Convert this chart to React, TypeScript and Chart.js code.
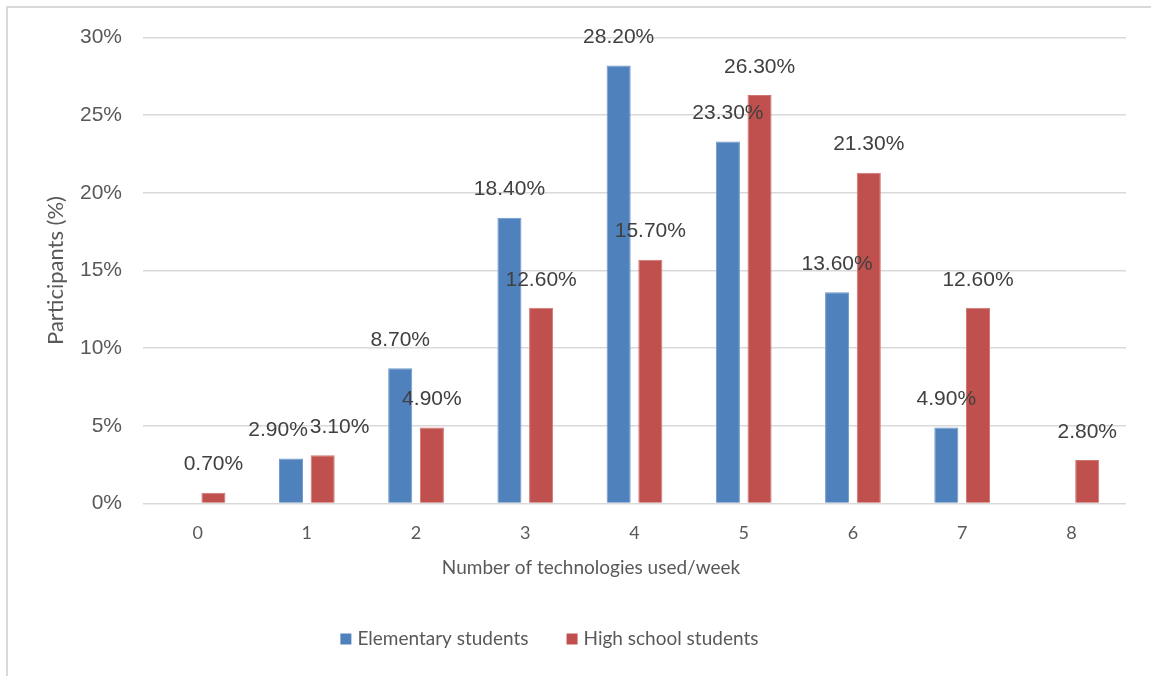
import React, { useEffect, useRef } from "react";
import { Chart, registerables } from "chart.js";

Chart.register(...registerables);

// Categories: number of technologies used per week
const categories = ["0", "1", "2", "3", "4", "5", "6", "7", "8"];

// Share of participants (%) per group
const elementaryValues = [null, 2.9, 8.7, 18.4, 28.2, 23.3, 13.6, 4.9, null];
const highSchoolValues = [0.7, 3.1, 4.9, 12.6, 15.7, 26.3, 21.3, 12.6, 2.8];

const seriesNames = ["Elementary students", "High school students"];
const seriesColors = ["#4f81bd", "#c0504d"];
const seriesBorders = ["#6f97c9", "#d07572"];

const yTicks = [0, 5, 10, 15, 20, 25, 30];
const xTitle = "Number of technologies used/week";
const yTitle = "Participants (%)";

const LABEL_FONT = '21px "Liberation Sans", Arial, sans-serif';
const SOFT_FONT = "Lato, sans-serif";

// Percentage labels above each bar; labels that collide inside a group are nudged apart.
const valueLabels = {
  id: "valueLabels",
  afterDatasetsDraw(chart: any) {
    const ctx = chart.ctx;
    ctx.save();
    ctx.font = LABEL_FONT;
    ctx.fillStyle = "#404040";
    ctx.textAlign = "center";
    ctx.textBaseline = "middle";
    const n = chart.data.labels.length;
    for (let i = 0; i < n; i++) {
      const items: any[] = [];
      chart.data.datasets.forEach((ds: any, di: number) => {
        const v = ds.data[i];
        if (v == null) return;
        const el = chart.getDatasetMeta(di).data[i];
        const text = v.toFixed(2) + "%";
        items.push({ x: el.x, y: el.y - 28, w: ctx.measureText(text).width, text });
      });
      if (items.length === 2) {
        const [a, b] = items;
        const need = (a.w + b.w) / 2 + 2;
        if (Math.abs(a.y - b.y) < 20 && b.x - a.x < need) {
          const shift = (need - (b.x - a.x)) / 2;
          a.x -= shift - 2;
          b.x += shift + 2;
        }
      }
      items.forEach((it) => ctx.fillText(it.text, it.x, it.y));
    }
    ctx.restore();
  },
};

// Horizontal axis title and the legend underneath the plot.
const bottomTexts = {
  id: "bottomTexts",
  afterDraw(chart: any) {
    const ctx = chart.ctx;
    ctx.save();
    ctx.font = `19px ${SOFT_FONT}`;
    ctx.fillStyle = "#595959";
    ctx.textBaseline = "middle";
    ctx.textAlign = "center";
    ctx.fillText(xTitle, 591, 568);

    const box = 11;
    const gapText = 6;
    const gapItem = 38;
    const widths = seriesNames.map((s) => ctx.measureText(s).width);
    const total =
      widths.reduce((acc, w) => acc + box + gapText + w, 0) + gapItem * (seriesNames.length - 1);
    let x = 549.4 - total / 2;
    const cy = 639;
    ctx.textAlign = "left";
    seriesNames.forEach((name, i) => {
      ctx.fillStyle = seriesColors[i];
      ctx.fillRect(x, cy - box / 2, box, box);
      x += box + gapText;
      ctx.fillStyle = "#595959";
      ctx.fillText(name, x, cy);
      x += widths[i] + gapItem;
    });
    ctx.restore();
  },
};

export default function App() {
  const canvasRef = useRef<HTMLCanvasElement | null>(null);

  useEffect(() => {
    const canvas = canvasRef.current;
    if (!canvas) return;
    const chart = new Chart(canvas, {
      type: "bar",
      data: {
        labels: categories,
        datasets: [
          {
            label: seriesNames[0],
            data: elementaryValues,
            backgroundColor: seriesColors[0],
            borderColor: seriesBorders[0],
            borderWidth: 1,
            categoryPercentage: 0.58,
            barPercentage: 0.76,
          },
          {
            label: seriesNames[1],
            data: highSchoolValues,
            backgroundColor: seriesColors[1],
            borderColor: seriesBorders[1],
            borderWidth: 1,
            categoryPercentage: 0.58,
            barPercentage: 0.76,
          },
        ] as any,
      },
      options: {
        animation: false,
        responsive: false,
        layout: { padding: { top: 37.5, right: 25, left: 0, bottom: 0 } },
        plugins: {
          legend: { display: false },
          tooltip: { enabled: false },
        },
        scales: {
          x: {
            grid: { display: false, drawTicks: false },
            border: { display: false },
            ticks: {
              color: "#595959",
              font: { family: SOFT_FONT, size: 18 },
              padding: 18.7,
            },
            afterFit(scale: any) {
              scale.height = 172.5;
            },
          },
          y: {
            min: 0,
            max: 30,
            afterBuildTicks(scale: any) {
              scale.ticks = yTicks.map((v) => ({ value: v }));
            },
            grid: { color: "#d9d9d9", lineWidth: 1.5, drawTicks: false },
            border: { display: false },
            ticks: {
              color: "#595959",
              font: { family: '"Liberation Sans", Arial, sans-serif', size: 21 },
              padding: 21,
              callback: (v: any) => v + "%",
            },
            title: {
              display: true,
              text: yTitle,
              color: "#595959",
              font: { family: SOFT_FONT, size: 22 },
              padding: { top: 42.8, bottom: 0 },
            },
            afterFit(scale: any) {
              scale.width = 143;
            },
          },
        },
      },
      plugins: [valueLabels, bottomTexts],
    });
    return () => chart.destroy();
  }, []);

  return (
    <div style={{ position: "absolute", left: 0, top: 0, width: 1151, height: 676, background: "#fff", overflow: "hidden" }}>
      <div
        style={{
          position: "absolute",
          left: 6,
          top: 6,
          width: 1200,
          height: 720,
          borderLeft: "2px solid #d9d9d9",
          borderTop: "2px solid #d9d9d9",
        }}
      />
      <canvas ref={canvasRef} width={1151} height={676} style={{ position: "absolute", left: 0, top: 0 }} />
    </div>
  );
}
